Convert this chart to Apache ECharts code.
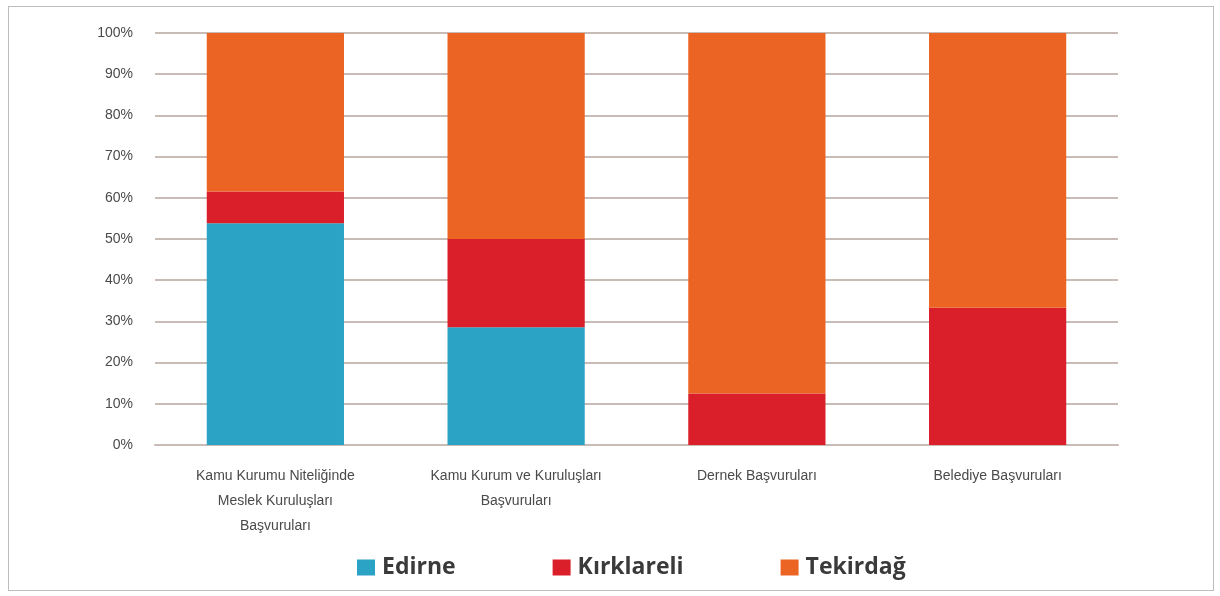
<!DOCTYPE html>
<html>
<head>
<meta charset="utf-8">
<script src="https://cdn.jsdelivr.net/npm/echarts@6/dist/echarts.min.js"></script>
<style>
  html, body { margin: 0; padding: 0; background: #fff; }
  #chart { width: 1220px; height: 596px; }
  .frame { position: absolute; left: 8px; top: 6px; width: 1204px; height: 583px; border: 1px solid #bdbdbd; pointer-events: none; }
</style>
</head>
<body>
<div id="chart"></div>
<div class="frame"></div>
<script>
// kategoriler ve iller
const categories = [
  "Kamu Kurumu Niteliğinde\nMeslek Kuruluşları\nBaşvuruları",
  "Kamu Kurum ve Kuruluşları\nBaşvuruları",
  "Dernek Başvuruları",
  "Belediye Başvuruları"
];
const edirne = [53.8, 28.6, 0, 0];
const kirklareli = [7.7, 21.4, 12.5, 33.3];
const tekirdag = [38.5, 50, 87.5, 66.7];
const yTicks = [0, 10, 20, 30, 40, 50, 60, 70, 80, 90, 100];

const colors = ["#2aa3c4", "#da1f2a", "#ec6423"];

let myChart = echarts.init(document.getElementById("chart"));
let option = {
  animation: false,
  color: colors,
  grid: { left: 155, right: 102, top: 33, bottom: 151 },
  legend: {
    top: 556,
    left: 357,
    padding: 0,
    itemWidth: 18,
    itemHeight: 16,
    itemGap: 97,
    icon: 'rect',
    textStyle: { fontSize: 23, fontWeight: 'bold', color: '#3a3a3a', fontFamily: 'Open Sans', padding: [0, 0, 0, 2] },
    data: ["Edirne", "Kırklareli", "Tekirdağ"]
  },
  xAxis: {
    type: 'category',
    data: categories,
    axisLine: { lineStyle: { color: '#c9bcb6', width: 2 } },
    axisTick: { show: false },
    axisLabel: { color: '#4a4a4a', fontSize: 14, lineHeight: 25, margin: 19, fontFamily: 'Liberation Sans' }
  },
  yAxis: {
    type: 'value',
    min: 0,
    max: 100,
    interval: 10,
    axisLine: { show: false },
    axisTick: { show: false },
    axisLabel: {
      color: '#4a4a4a', fontSize: 14, margin: 22, fontFamily: 'Liberation Sans',
      formatter: v => yTicks.includes(v) ? v + '%' : ''
    },
    splitLine: { lineStyle: { color: '#c9bcb6', width: 2 } }
  },
  series: [
    { name: "Edirne", type: 'bar', stack: 'total', barWidth: '57%', data: edirne },
    { name: "Kırklareli", type: 'bar', stack: 'total', data: kirklareli },
    { name: "Tekirdağ", type: 'bar', stack: 'total', data: tekirdag }
  ]
};
myChart.setOption(option);
</script>
</body>
</html>
